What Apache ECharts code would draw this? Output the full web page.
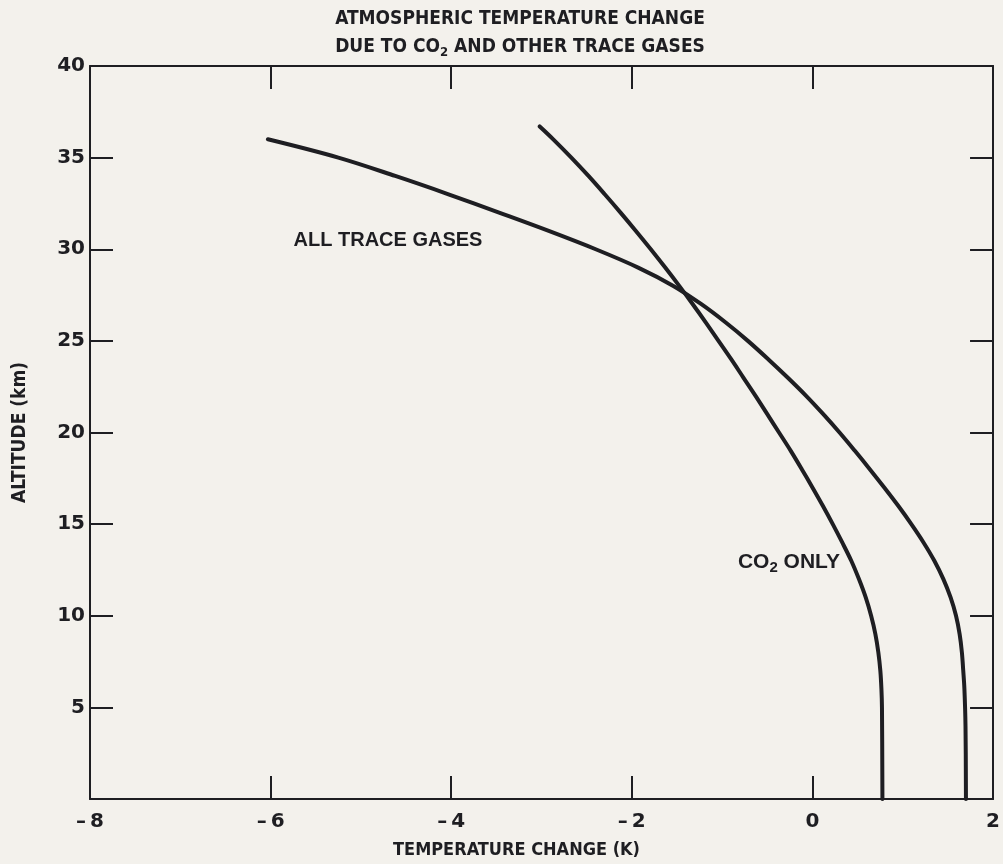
<!DOCTYPE html>
<html>
<head>
<meta charset="utf-8">
<script src="https://cdn.jsdelivr.net/npm/echarts@6/dist/echarts.min.js"></script>
<style>
html,body{margin:0;padding:0;background:#f3f1ec;}
#chart{width:1003px;height:864px;}
</style>
</head>
<body>
<div id="chart"></div>
<script>
// Data (altitude in km, temperature change in K)
const allTraceAltitude = [36, 35, 34, 33, 32, 31, 30, 29, 28, 27, 26, 25, 24, 23, 22, 21, 20, 19, 18, 17, 16, 15, 14, 13, 12, 11, 10, 9, 8, 7, 6, 4, 0];
const allTraceTemp     = [-6.03, -5.25, -4.62, -4.03, -3.47, -2.92, -2.40, -1.93, -1.54, -1.23, -0.96, -0.715, -0.49, -0.275, -0.07, 0.12, 0.30, 0.47, 0.635, 0.795, 0.95, 1.095, 1.23, 1.35, 1.45, 1.53, 1.59, 1.63, 1.655, 1.67, 1.683, 1.695, 1.70];
const co2Altitude = [36.7, 36, 35, 34, 33, 32, 31, 30, 29, 28, 27, 26, 25, 24, 23, 22, 21, 20, 19, 18, 17, 16, 15, 14, 13, 12, 11, 10, 9, 8, 7, 6, 5, 0];
const co2Temp     = [-3.02, -2.87, -2.67, -2.48, -2.30, -2.125, -1.955, -1.79, -1.63, -1.475, -1.325, -1.18, -1.04, -0.90, -0.765, -0.63, -0.50, -0.37, -0.24, -0.118, 0.0, 0.115, 0.225, 0.33, 0.43, 0.515, 0.59, 0.65, 0.697, 0.73, 0.752, 0.764, 0.77, 0.775];
const xTicks = [-8, -6, -4, -2, 0, 2];
const yTicks = [0, 5, 10, 15, 20, 25, 30, 35, 40];
const seriesNames = ['ALL TRACE GASES', 'CO2 ONLY'];
const labelAllTrace = [-4.70, 30.5];
const labelCO2 = [-0.26, 12.9];

const ink = '#1e1e22';
const narrow = "'Liberation Sans Narrow','DejaVu Sans Condensed','Noto Sans',sans-serif";
const wide = "'DejaVu Sans',sans-serif";
const sans = "'Liberation Sans','Noto Sans',sans-serif";

const pairs = (xs, ys) => xs.map((v, i) => [v, ys[i]]);

const chart = echarts.init(document.getElementById('chart'), null, {renderer: 'canvas'});

const xBase = {
  type: 'value', min: xTicks[0], max: xTicks[xTicks.length - 1], interval: 2,
  axisLine: {show: true, onZero: false, lineStyle: {color: ink, width: 2}},
  axisTick: {show: true, inside: true, length: 23, lineStyle: {color: ink, width: 2}},
  splitLine: {show: false}
};
const yBase = {
  type: 'value', min: yTicks[0], max: yTicks[yTicks.length - 1], interval: 5,
  axisLine: {show: true, onZero: false, lineStyle: {color: ink, width: 2}},
  axisTick: {show: true, inside: true, length: 23, lineStyle: {color: ink, width: 2}},
  splitLine: {show: false}
};

chart.setOption({
  animation: false,
  backgroundColor: '#f3f1ec',
  graphic: [{
    type: 'text', x: 520, y: 5,
    style: {
      text: '{a|ATMOSPHERIC TEMPERATURE CHANGE}\n{a|DUE TO CO}{s|2}{a| AND OTHER TRACE GASES}',
      align: 'center',
      fill: ink,
      rich: {
        a: {fontFamily: narrow, fontWeight: 'bold', fontSize: 19, lineHeight: 28, fill: ink},
        s: {fontFamily: narrow, fontWeight: 'bold', fontSize: 13, lineHeight: 28, padding: [12, 0, 0, 0], fill: ink}
      }
    }
  }],
  grid: {left: 90, right: 3, top: 66, bottom: 62, containLabel: false},
  xAxis: [
    Object.assign({}, xBase, {
      position: 'bottom',
      name: 'TEMPERATURE CHANGE (K)', nameLocation: 'middle', nameGap: 42,
      nameTextStyle: {fontFamily: narrow, fontWeight: 'bold', fontSize: 18, color: ink, padding: [0, 50, 0, 0]},
      axisLabel: {
        margin: 13, color: ink, fontFamily: wide, fontWeight: 'bold', fontSize: 20,
        formatter: v => v < 0 ? '\u2013\u2009' + (-v) : String(v)
      }
    }),
    Object.assign({}, xBase, {position: 'top', axisLabel: {show: false}})
  ],
  yAxis: [
    Object.assign({}, yBase, {
      position: 'left',
      name: 'ALTITUDE (km)', nameLocation: 'middle', nameGap: 60, nameRotate: 90,
      nameTextStyle: {fontFamily: narrow, fontWeight: 'bold', fontSize: 19, color: ink},
      axisLabel: {
        margin: 5, color: ink, fontFamily: wide, fontWeight: 'bold', fontSize: 20,
        formatter: v => v === 0 ? '' : String(v)
      }
    }),
    Object.assign({}, yBase, {position: 'right', axisLabel: {show: false}})
  ],
  series: [
    {
      name: seriesNames[0], type: 'line', xAxisIndex: 0, yAxisIndex: 0,
      data: pairs(allTraceTemp, allTraceAltitude),
      smooth: 0.35, symbol: 'none',
      lineStyle: {color: ink, width: 4, cap: 'round'},
      markPoint: {
        symbol: 'circle', symbolSize: 0,
        label: {show: true, position: 'inside', formatter: seriesNames[0], color: ink,
                fontFamily: sans, fontWeight: 'bold', fontSize: 20},
        data: [{coord: labelAllTrace}]
      }
    },
    {
      name: seriesNames[1], type: 'line', xAxisIndex: 0, yAxisIndex: 0,
      data: pairs(co2Temp, co2Altitude),
      smooth: 0.35, symbol: 'none',
      lineStyle: {color: ink, width: 4, cap: 'round'},
      markPoint: {
        symbol: 'circle', symbolSize: 0,
        label: {show: true, position: 'inside', color: ink,
                formatter: '{a|CO}{s|2}{a| ONLY}',
                rich: {
                  a: {fontFamily: sans, fontWeight: 'bold', fontSize: 21, lineHeight: 24, color: ink},
                  s: {fontFamily: sans, fontWeight: 'bold', fontSize: 15, lineHeight: 24, padding: [10, 0, 0, 0], color: ink}
                }},
        data: [{coord: labelCO2}]
      }
    }
  ]
});
</script>
</body>
</html>
